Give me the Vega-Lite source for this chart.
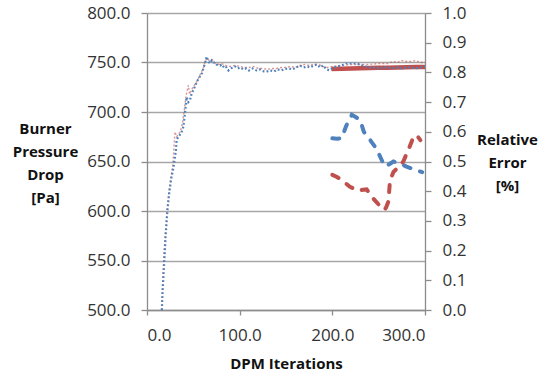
{
  "$schema": "https://vega.github.io/schema/vega-lite/v6.json",
  "width": 278,
  "height": 297,
  "autosize": {"type": "none"},
  "padding": {"left": 147, "top": 13, "right": 122, "bottom": 66},
  "background": "white",
  "config": {
    "view": {"stroke": null},
    "font": "Open Sans",
    "axis": {
      "labelFont": "Open Sans",
      "labelFontSize": 17,
      "labelColor": "#333333",
      "titleFont": "Open Sans",
      "titleFontSize": 15,
      "titleFontWeight": "bold",
      "titleColor": "#111111",
      "domainColor": "#8c8c8c",
      "domainWidth": 1.3,
      "tickColor": "#8c8c8c",
      "tickWidth": 1.3,
      "gridColor": "#a6a6a6",
      "gridWidth": 1.3
    }
  },
  "datasets": {
    "pd_blue": [
      {"iter": 16, "pa": 500}, {"iter": 17, "pa": 522}, {"iter": 18.7, "pa": 550}, {"iter": 20, "pa": 573},
      {"iter": 22, "pa": 600}, {"iter": 24, "pa": 618}, {"iter": 26, "pa": 632}, {"iter": 28.4, "pa": 643},
      {"iter": 29.5, "pa": 650}, {"iter": 31.3, "pa": 662}, {"iter": 32, "pa": 672}, {"iter": 34, "pa": 675},
      {"iter": 35.6, "pa": 677}, {"iter": 37.4, "pa": 680}, {"iter": 39.2, "pa": 685}, {"iter": 41, "pa": 699},
      {"iter": 42.8, "pa": 715}, {"iter": 44.6, "pa": 710}, {"iter": 46.4, "pa": 712}, {"iter": 48.2, "pa": 719},
      {"iter": 50, "pa": 722}, {"iter": 51.8, "pa": 726}, {"iter": 54, "pa": 731}, {"iter": 57.2, "pa": 736},
      {"iter": 59, "pa": 738}, {"iter": 60.8, "pa": 744}, {"iter": 62.6, "pa": 749}, {"iter": 64.4, "pa": 756},
      {"iter": 66.2, "pa": 751}, {"iter": 68, "pa": 749}, {"iter": 69.8, "pa": 752}, {"iter": 71.6, "pa": 750},
      {"iter": 73.4, "pa": 750}, {"iter": 75, "pa": 748}, {"iter": 78.8, "pa": 747}, {"iter": 81, "pa": 748},
      {"iter": 83, "pa": 745}, {"iter": 85, "pa": 746}, {"iter": 87.8, "pa": 742}, {"iter": 90, "pa": 744},
      {"iter": 93, "pa": 745}, {"iter": 95, "pa": 746}, {"iter": 98, "pa": 744}, {"iter": 101, "pa": 745},
      {"iter": 104, "pa": 743}, {"iter": 107, "pa": 744}, {"iter": 110, "pa": 742}, {"iter": 114, "pa": 744},
      {"iter": 118, "pa": 742}, {"iter": 122, "pa": 743}, {"iter": 126, "pa": 741}, {"iter": 129, "pa": 740.8},
      {"iter": 133, "pa": 742}, {"iter": 137, "pa": 741}, {"iter": 141, "pa": 743}, {"iter": 145, "pa": 742},
      {"iter": 149, "pa": 743.5}, {"iter": 153, "pa": 744}, {"iter": 157, "pa": 743}, {"iter": 161, "pa": 745},
      {"iter": 165, "pa": 747}, {"iter": 169, "pa": 745}, {"iter": 173, "pa": 746}, {"iter": 176, "pa": 745},
      {"iter": 180, "pa": 747}, {"iter": 183, "pa": 748}, {"iter": 187, "pa": 745}, {"iter": 190, "pa": 747},
      {"iter": 194, "pa": 743}, {"iter": 197, "pa": 742}, {"iter": 200, "pa": 744}, {"iter": 205, "pa": 746},
      {"iter": 210, "pa": 747}, {"iter": 215, "pa": 749}, {"iter": 220, "pa": 749}, {"iter": 225, "pa": 749},
      {"iter": 230, "pa": 748}, {"iter": 235, "pa": 746}, {"iter": 240, "pa": 745}, {"iter": 245, "pa": 745},
      {"iter": 250, "pa": 744}, {"iter": 255, "pa": 745}, {"iter": 260, "pa": 745}, {"iter": 265, "pa": 744},
      {"iter": 270, "pa": 745}, {"iter": 275, "pa": 744}, {"iter": 280, "pa": 745}, {"iter": 285, "pa": 745},
      {"iter": 290, "pa": 744}, {"iter": 295, "pa": 745}, {"iter": 300, "pa": 746}
    ],
    "pd_red": [
      {"iter": 16, "pa": 500}, {"iter": 17, "pa": 530}, {"iter": 18.5, "pa": 560}, {"iter": 20, "pa": 580},
      {"iter": 22, "pa": 605}, {"iter": 24, "pa": 622}, {"iter": 26, "pa": 635}, {"iter": 28, "pa": 648},
      {"iter": 30.2, "pa": 680}, {"iter": 32, "pa": 675}, {"iter": 34, "pa": 678}, {"iter": 36, "pa": 680},
      {"iter": 38, "pa": 688}, {"iter": 40, "pa": 700}, {"iter": 42, "pa": 716}, {"iter": 44.6, "pa": 727},
      {"iter": 46, "pa": 718}, {"iter": 48, "pa": 722}, {"iter": 50, "pa": 726}, {"iter": 52, "pa": 728},
      {"iter": 55, "pa": 733}, {"iter": 58, "pa": 739}, {"iter": 61, "pa": 745}, {"iter": 63, "pa": 752},
      {"iter": 65, "pa": 754}, {"iter": 67, "pa": 752}, {"iter": 70, "pa": 753}, {"iter": 73, "pa": 750},
      {"iter": 77, "pa": 748}, {"iter": 80, "pa": 749}, {"iter": 85, "pa": 747}, {"iter": 90, "pa": 746},
      {"iter": 95, "pa": 747}, {"iter": 100, "pa": 746}, {"iter": 105, "pa": 745}, {"iter": 110, "pa": 745},
      {"iter": 115, "pa": 746}, {"iter": 120, "pa": 744}, {"iter": 125, "pa": 744}, {"iter": 130, "pa": 743},
      {"iter": 135, "pa": 744}, {"iter": 140, "pa": 744}, {"iter": 145, "pa": 745}, {"iter": 150, "pa": 745},
      {"iter": 155, "pa": 746}, {"iter": 160, "pa": 745}, {"iter": 165, "pa": 747}, {"iter": 170, "pa": 748},
      {"iter": 175, "pa": 747}, {"iter": 180, "pa": 748}, {"iter": 185, "pa": 748}, {"iter": 190, "pa": 746},
      {"iter": 195, "pa": 745}, {"iter": 200, "pa": 746}, {"iter": 210, "pa": 747}, {"iter": 220, "pa": 748},
      {"iter": 230, "pa": 748}, {"iter": 240, "pa": 748}, {"iter": 250, "pa": 749}, {"iter": 260, "pa": 749},
      {"iter": 265, "pa": 751}, {"iter": 270, "pa": 750}, {"iter": 275, "pa": 752}, {"iter": 280, "pa": 751},
      {"iter": 285, "pa": 751}, {"iter": 290, "pa": 752}, {"iter": 295, "pa": 750}, {"iter": 300, "pa": 750}
    ],
    "pd_thick": [
      {"iter": 199, "pa": 743.4}, {"iter": 210, "pa": 743.8}, {"iter": 220, "pa": 744}, {"iter": 230, "pa": 744.3},
      {"iter": 240, "pa": 744.5}, {"iter": 250, "pa": 744.6}, {"iter": 260, "pa": 744.8}, {"iter": 270, "pa": 745},
      {"iter": 280, "pa": 745.2}, {"iter": 290, "pa": 745.4}, {"iter": 300, "pa": 745.5}
    ],
    "err_blue": [
      {"iter": 200, "err": 0.578}, {"iter": 205, "err": 0.577}, {"iter": 210, "err": 0.578}, {"iter": 215, "err": 0.62},
      {"iter": 221, "err": 0.657}, {"iter": 226, "err": 0.648}, {"iter": 230, "err": 0.64}, {"iter": 234, "err": 0.6},
      {"iter": 238, "err": 0.585}, {"iter": 242, "err": 0.567}, {"iter": 246, "err": 0.55}, {"iter": 250, "err": 0.527},
      {"iter": 254, "err": 0.5}, {"iter": 257, "err": 0.483}, {"iter": 261, "err": 0.49}, {"iter": 266, "err": 0.5},
      {"iter": 270, "err": 0.496}, {"iter": 275, "err": 0.49}, {"iter": 280, "err": 0.483}, {"iter": 286, "err": 0.476},
      {"iter": 293, "err": 0.468}, {"iter": 297, "err": 0.464}
    ],
    "err_red": [
      {"iter": 200, "err": 0.455}, {"iter": 205, "err": 0.448}, {"iter": 210, "err": 0.438}, {"iter": 215, "err": 0.425},
      {"iter": 219, "err": 0.415}, {"iter": 224, "err": 0.408}, {"iter": 228, "err": 0.402}, {"iter": 233, "err": 0.405},
      {"iter": 237, "err": 0.406}, {"iter": 241, "err": 0.39}, {"iter": 244, "err": 0.376}, {"iter": 250, "err": 0.355},
      {"iter": 256, "err": 0.337}, {"iter": 258, "err": 0.345}, {"iter": 260.5, "err": 0.365}, {"iter": 262, "err": 0.427},
      {"iter": 264, "err": 0.45}, {"iter": 266, "err": 0.465}, {"iter": 271, "err": 0.48}, {"iter": 276.6, "err": 0.5},
      {"iter": 282, "err": 0.539}, {"iter": 287, "err": 0.578}, {"iter": 291, "err": 0.589}, {"iter": 295, "err": 0.572}
    ]
  },
  "encoding": {
    "x": {
      "field": "iter",
      "type": "quantitative",
      "scale": {"domain": [0, 300], "nice": false, "zero": false},
      "axis": {
        "title": "DPM Iterations",
        "values": [0, 100, 200, 300],
        "format": ".1f",
        "grid": false,
        "tickSize": 5,
        "labelPadding": 12,
        "titleY": 58,
        "titleBaseline": "alphabetic"
      }
    }
  },
  "layer": [
    {
      "encoding": {
        "y": {
          "field": "pa",
          "type": "quantitative",
          "scale": {"domain": [500, 800], "nice": false, "zero": false},
          "axis": {
            "orient": "left",
            "title": ["Burner", "Pressure", "Drop", "[Pa]"],
            "titleAngle": 0,
            "titleAlign": "center",
            "titleBaseline": "middle",
            "titleX": -102,
            "titleY": 115,
            "titleLineHeight": 23,
            "values": [500, 550, 600, 650, 700, 750, 800],
            "format": ".1f",
            "grid": true,
            "tickSize": 6,
            "labelPadding": 11
          }
        }
      },
      "layer": [
        {
          "data": {"name": "pd_thick"},
          "mark": {"type": "line", "color": "#C0504D", "strokeWidth": 4.5, "strokeCap": "butt"}
        },
        {
          "data": {"name": "pd_red"},
          "mark": {"type": "line", "color": "#C0504D", "strokeWidth": 1.4, "strokeDash": [2, 2], "opacity": 0.6}
        },
        {
          "data": {"name": "pd_blue"},
          "mark": {"type": "line", "color": "#4F81BD", "strokeWidth": 2.2, "strokeDash": [1.8, 2.2]}
        }
      ]
    },
    {
      "encoding": {
        "y": {
          "field": "err",
          "type": "quantitative",
          "scale": {"domain": [0, 1], "nice": false, "zero": false},
          "axis": {
            "orient": "right",
            "title": ["Relative", "Error", "[%]"],
            "titleAngle": 0,
            "titleAlign": "center",
            "titleBaseline": "middle",
            "titleX": 82,
            "titleY": 126,
            "titleLineHeight": 23,
            "values": [0, 0.1, 0.2, 0.3, 0.4, 0.5, 0.6, 0.7, 0.8, 0.9, 1.0],
            "format": ".1f",
            "grid": false,
            "tickSize": 6,
            "labelPadding": 11
          }
        }
      },
      "layer": [
        {
          "data": {"name": "err_blue"},
          "mark": {"type": "line", "color": "#4F81BD", "strokeWidth": 4, "strokeCap": "round", "strokeDash": [7, 10]}
        },
        {
          "data": {"name": "err_red"},
          "mark": {"type": "line", "color": "#C0504D", "strokeWidth": 4, "strokeCap": "round", "strokeDash": [7, 10]}
        }
      ]
    }
  ],
  "resolve": {"scale": {"y": "independent"}}
}
